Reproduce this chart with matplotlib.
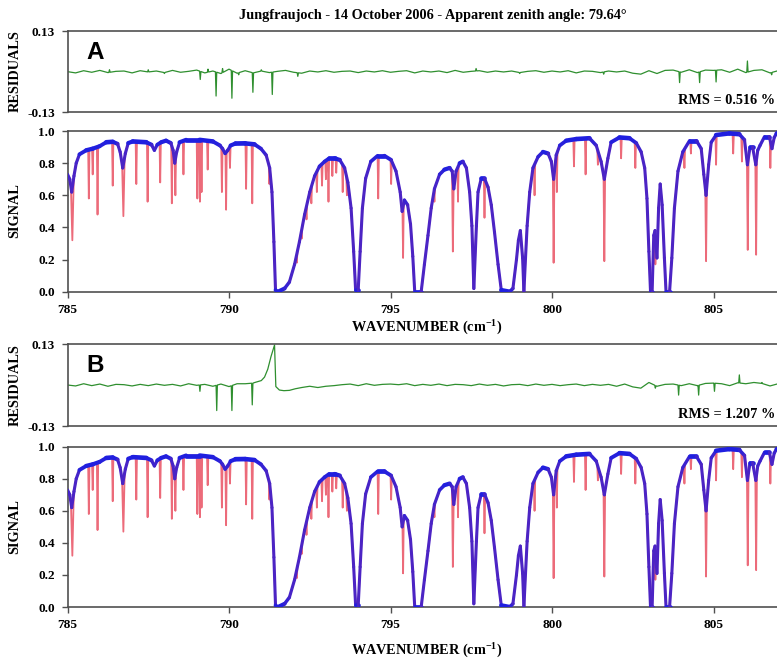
import numpy as np
import matplotlib
matplotlib.use("Agg")
import matplotlib.pyplot as plt
from matplotlib.collections import LineCollection
from matplotlib.colors import to_rgb

# ---------------------------------------------------------------------------
# Spectral data (wavenumber in cm-1, normalised signal)
# ---------------------------------------------------------------------------
# Calculated spectrum: broad absorption envelope
env_wn = [785.00, 785.07, 785.13, 785.20, 785.27, 785.37, 785.58, 785.78, 785.99,
          786.20, 786.40, 786.55, 786.63, 786.71, 786.79, 786.88, 787.02, 787.44,
          787.60, 787.69, 787.78, 787.90, 788.05, 788.20, 788.27, 788.32, 788.38,
          788.47, 788.67, 789.09, 789.50, 789.72, 789.80, 789.88, 789.96, 790.05,
          790.20, 790.50, 790.79, 790.99, 791.15, 791.26, 791.33, 791.39, 791.44,
          791.51, 791.72, 791.87, 792.03, 792.18, 792.34, 792.50, 792.65, 792.80,
          792.96, 793.10, 793.27, 793.43, 793.58, 793.68, 793.78, 793.86, 793.92,
          794.00, 794.06, 794.13, 794.23, 794.39, 794.60, 794.81, 795.02, 795.17,
          795.30, 795.36, 795.43, 795.53, 795.62, 795.69, 795.75, 795.95, 796.05,
          796.16, 796.26, 796.36, 796.52, 796.67, 796.83, 796.91, 796.96, 797.03,
          797.14, 797.24, 797.35, 797.45, 797.52, 797.58, 797.66, 797.71, 797.81,
          797.91, 798.02, 798.12, 798.22, 798.33, 798.43, 798.69, 798.79, 798.90,
          798.96, 799.02, 799.09, 799.13, 799.18, 799.23, 799.31, 799.41, 799.57,
          799.72, 799.88, 799.98, 800.05, 800.13, 800.24, 800.44, 800.75, 801.16,
          801.37, 801.52, 801.62, 801.73, 801.83, 802.09, 802.40, 802.61, 802.76,
          802.87, 802.94, 803.00, 803.05, 803.10, 803.15, 803.19, 803.25, 803.30,
          803.35, 803.41, 803.48, 803.53, 803.64, 803.71, 803.79, 803.90, 804.05,
          804.26, 804.47, 804.62, 804.70, 804.77, 804.85, 804.93, 805.08, 805.49,
          805.80, 805.96, 806.05, 806.13, 806.21, 806.31, 806.37, 806.44, 806.58,
          806.73, 806.81, 806.88, 806.95, 807.00]
env_sig = [0.73, 0.70, 0.62, 0.72, 0.80, 0.855, 0.88, 0.89, 0.905,
           0.93, 0.933, 0.92, 0.87, 0.77, 0.86, 0.925, 0.935, 0.93,
           0.915, 0.88, 0.915, 0.93, 0.94, 0.925, 0.88, 0.80, 0.87,
           0.93, 0.945, 0.945, 0.935, 0.91, 0.89, 0.86, 0.88, 0.91,
           0.922, 0.923, 0.917, 0.89, 0.85, 0.77, 0.62, 0.31, 0.01,
           0.00, 0.02, 0.06, 0.17, 0.31, 0.48, 0.62, 0.72, 0.78,
           0.81, 0.83, 0.83, 0.82, 0.77, 0.68, 0.52, 0.25, 0.01,
           0.01, 0.25, 0.52, 0.705, 0.81, 0.846, 0.846, 0.82, 0.75,
           0.62, 0.50, 0.57, 0.54, 0.42, 0.22, 0.00, 0.00, 0.17,
           0.35, 0.52, 0.64, 0.73, 0.76, 0.77, 0.75, 0.64, 0.75,
           0.80, 0.81, 0.77, 0.62, 0.41, 0.02, 0.41, 0.62, 0.705,
           0.705, 0.65, 0.54, 0.37, 0.17, 0.01, 0.00, 0.02, 0.20,
           0.32, 0.38, 0.21, 0.00, 0.21, 0.41, 0.62, 0.77, 0.84,
           0.87, 0.86, 0.81, 0.70, 0.85, 0.91, 0.94, 0.95, 0.955,
           0.91, 0.81, 0.70, 0.83, 0.93, 0.96, 0.955, 0.925, 0.87,
           0.77, 0.58, 0.25, 0.00, 0.00, 0.35, 0.38, 0.21, 0.52,
           0.67, 0.54, 0.21, 0.00, 0.00, 0.21, 0.52, 0.75, 0.87,
           0.94, 0.94, 0.89, 0.73, 0.60, 0.79, 0.93, 0.975, 0.985,
           0.98, 0.945, 0.79, 0.90, 0.90, 0.79, 0.88, 0.91, 0.965,
           0.965, 0.89, 0.96, 0.985, 0.99]

# Observed spectrum: narrow lines below the envelope (centre, minimum, half width)
line_wn = [785.15, 785.66, 785.78, 785.93, 786.40, 786.73, 787.13, 787.48, 787.87,
           788.23, 788.34, 788.59, 789.02, 789.10, 789.15, 789.34, 789.78, 789.91,
           790.03, 790.53, 790.72, 791.25, 792.10, 792.25, 792.40, 792.55, 792.72,
           792.88, 793.00, 793.08, 793.20, 793.32, 793.52, 793.65, 794.62, 795.02,
           795.39, 796.36, 796.93, 797.09, 797.91, 799.46, 800.05, 800.15, 800.68,
           801.04, 801.42, 801.62, 802.14, 802.58, 803.20, 804.10, 804.30, 804.77,
           805.08, 805.61, 805.88, 806.06, 806.32, 806.76]
line_min = [0.32, 0.58, 0.73, 0.48, 0.66, 0.47, 0.67, 0.56, 0.68,
            0.55, 0.60, 0.73, 0.58, 0.56, 0.62, 0.76, 0.62, 0.51,
            0.77, 0.64, 0.55, 0.67, 0.18, 0.33, 0.45, 0.55, 0.62,
            0.66, 0.70, 0.56, 0.72, 0.74, 0.62, 0.60, 0.58, 0.67,
            0.21, 0.56, 0.25, 0.56, 0.46, 0.60, 0.18, 0.62, 0.78,
            0.73, 0.79, 0.19, 0.83, 0.77, 0.17, 0.77, 0.86, 0.19,
            0.79, 0.86, 0.81, 0.26, 0.23, 0.77]
line_hw = [0.045, 0.02, 0.02, 0.02, 0.02, 0.04, 0.02, 0.02, 0.02,
           0.02, 0.02, 0.02, 0.02, 0.02, 0.02, 0.02, 0.02, 0.02,
           0.02, 0.02, 0.02, 0.02, 0.02, 0.02, 0.02, 0.02, 0.02,
           0.02, 0.02, 0.02, 0.02, 0.02, 0.02, 0.02, 0.02, 0.02,
           0.02, 0.02, 0.025, 0.02, 0.02, 0.02, 0.025, 0.02, 0.02,
           0.02, 0.02, 0.025, 0.02, 0.02, 0.02, 0.02, 0.02, 0.025,
           0.02, 0.02, 0.02, 0.025, 0.025, 0.02]

# Residuals (observed - calculated), baseline every 0.25 cm-1 from 785
res_a_base = [0.000, -0.004, 0.003, -0.002, 0.004, -0.003, 0.001, 0.002, -0.004, 0.003,
              -0.001, 0.002, -0.003, 0.004, -0.002, 0.001, 0.005, -0.004, 0.002, -0.006,
              0.008, -0.005, 0.003, -0.004, 0.002, -0.003, 0.001, 0.004, -0.002, -0.005,
              0.002, -0.001, 0.003, -0.002, 0.001, 0.002, -0.003, 0.002, -0.001, 0.003,
              -0.002, 0.001, 0.003, -0.004, 0.002, -0.001, 0.002, -0.003, 0.004, -0.002,
              0.001, 0.003, -0.002, 0.002, -0.001, 0.002, -0.003, 0.001, 0.003, -0.002,
              0.002, -0.001, 0.003, -0.004, 0.002, 0.001, -0.003, 0.002, -0.001, 0.002,
              -0.005, -0.008, 0.003, -0.006, 0.004, 0.005, -0.002, 0.006, -0.003, 0.005,
              0.004, 0.006, -0.002, 0.008, -0.003, 0.004, 0.006, -0.004, 0.003]
res_a_spk_wn = [786.30, 787.50, 788.00, 789.11, 789.35, 789.60, 789.80, 790.09, 790.30,
                790.74, 791.00, 791.34, 792.13, 797.65, 799.00, 801.60, 803.95, 804.57,
                805.08, 806.05, 806.80]
res_a_spk = [0.006, 0.006, -0.006, -0.025, 0.008, -0.078, 0.010, -0.085, -0.010,
             -0.066, 0.006, -0.073, -0.015, 0.010, -0.006, -0.008, -0.035, -0.035,
             -0.033, 0.034, -0.010]

res_b_base = [0.000, -0.003, 0.004, -0.002, 0.003, -0.004, 0.002, 0.001, -0.003, 0.002,
              -0.002, 0.003, -0.001, 0.002, -0.003, 0.004, -0.001, 0.002, -0.004, 0.003,
              -0.005, 0.004, 0.004, 0.006, 0.010, 0.016, 0.030, 0.005, -0.016, -0.017,
              -0.012, -0.008, -0.004, -0.002, 0.001, 0.003, -0.002, 0.004, -0.001, 0.002,
              0.003, 0.001, 0.004, -0.002, 0.002, -0.001, 0.003, -0.002, 0.002, 0.001,
              -0.002, 0.003, -0.001, 0.002, -0.003, 0.001, 0.002, -0.002, 0.003, -0.001,
              0.002, -0.002, 0.001, 0.003, -0.002, 0.002, -0.001, 0.002, -0.004, 0.003,
              -0.006, -0.010, 0.008, -0.004, 0.002, 0.003, -0.002, 0.004, -0.002, 0.005,
              0.006, 0.004, -0.002, 0.007, 0.004, 0.008, 0.005, -0.003, 0.004]
# Systematic feature near the saturated line at 791.5 cm-1
res_b_ramp_wn = [790.50, 790.80, 791.00, 791.10, 791.20, 791.30, 791.41, 791.45,
                 791.56, 791.70, 791.87, 792.05, 792.25, 792.50]
res_b_ramp = [0.004, 0.008, 0.014, 0.025, 0.050, 0.090, 0.127, -0.005,
              -0.016, -0.018, -0.017, -0.012, -0.008, -0.004]
res_b_spk_wn = [789.10, 789.62, 790.09, 790.72, 803.20, 803.92, 804.54, 805.03,
                805.80, 806.50]
res_b_spk = [-0.020, -0.081, -0.081, -0.063, -0.010, -0.032, -0.032, -0.020,
             0.032, 0.008]

xticks = [785, 790, 795, 800, 805]
sig_ticks = [0.0, 0.2, 0.4, 0.6, 0.8, 1.0]
res_ticks = [-0.13, 0.13]
res_tick_labels = ["-0.13", "0.13"]

title = "Jungfraujoch - 14 October 2006 - Apparent zenith angle: 79.64°"
rms_labels = ["RMS = 0.516 %", "RMS = 1.207 %"]
panel_letters = ["A", "B"]

# ---------------------------------------------------------------------------
plt.rcParams["font.family"] = "Liberation Serif"
plt.rcParams["font.weight"] = "bold"
plt.rcParams["mathtext.default"] = "regular"

BLUE = "#1f1fe0"
PURPLE = "#7a2aa8"
RED = "#e63a4e"
GREEN = "#2f8f2f"
SPINE = "#505050"
FS = 10.3


def observed_trace(wn, sig, lw_, lmin, lhw):
    """Insert the narrow lines into the envelope polyline."""
    wn = np.asarray(wn)
    sig = np.asarray(sig)
    keep = np.ones(len(wn), bool)
    pts = []
    for c, m, h in zip(lw_, lmin, lhw):
        keep &= ~((wn > c - h) & (wn < c + h))
        pts += [(c - h, np.interp(c - h, wn, sig)), (c, m),
                (c + h, np.interp(c + h, wn, sig))]
    pts += list(zip(wn[keep], sig[keep]))
    pts.sort()
    return np.array(pts).T


def residual_trace(base, spk_wn, spk, ramp_wn=(), ramp=()):
    bx = 785 + 0.25 * np.arange(len(base))
    by = np.asarray(base)
    keep = np.ones(len(bx), bool)
    if len(ramp_wn):
        keep &= ~((bx >= ramp_wn[0]) & (bx <= ramp_wn[-1]))
    pts = list(zip(ramp_wn, ramp))
    for c, v in zip(spk_wn, spk):
        keep &= ~((bx > c - 0.03) & (bx < c + 0.03))
        pts += [(c - 0.02, np.interp(c - 0.02, bx, by)), (c, v),
                (c + 0.02, np.interp(c + 0.02, bx, by))]
    pts += list(zip(bx[keep], by[keep]))
    pts.sort()
    return np.array(pts).T


def envelope_collection(ax, wn, sig):
    """Calculated spectrum: heavy on flat parts, a little thinner on steep flanks."""
    wn = np.asarray(wn)
    sig = np.asarray(sig)
    pts = np.column_stack([wn, sig])
    segs = np.stack([pts[:-1], pts[1:]], axis=1)
    dx = np.diff(wn) * 32.3
    dy = np.diff(sig) * 160.7
    steep = np.abs(dy) / np.hypot(dx, dy)
    widths = 3.4 - 1.2 * steep
    b, p = np.array(to_rgb(BLUE)), np.array(to_rgb(PURPLE))
    mix = (np.clip(steep, 0, 1) ** 3)[:, None] * 0.5
    cols = b * (1 - mix) + p * mix
    lc = LineCollection(segs, linewidths=widths, colors=cols, capstyle="round",
                        joinstyle="round", zorder=3)
    ax.add_collection(lc)


obs_x, obs_y = observed_trace(env_wn, env_sig, line_wn, line_min, line_hw)
ra_x, ra_y = residual_trace(res_a_base, res_a_spk_wn, res_a_spk)
rb_x, rb_y = residual_trace(res_b_base, res_b_spk_wn, res_b_spk,
                            res_b_ramp_wn, res_b_ramp)

W_PX, H_PX = 777, 663
fig = plt.figure(figsize=(W_PX / 100, H_PX / 100), dpi=100)

L = 67.5 / W_PX
WID = (778.1 - 67.5) / W_PX


def frame(top, bottom):
    return [L, 1 - bottom / H_PX, WID, (bottom - top) / H_PX]


ax_ra = fig.add_axes(frame(31, 112.3))
ax_sa = fig.add_axes(frame(131, 291.7))
ax_rb = fig.add_axes(frame(344, 426))
ax_sb = fig.add_axes(frame(446.7, 607))

for ax in (ax_ra, ax_sa, ax_rb, ax_sb):
    ax.set_xlim(785, 807)
    for s in ax.spines.values():
        s.set_color(SPINE)
        s.set_linewidth(1.2)
    ax.tick_params(direction="out", length=4, width=1, color=SPINE,
                   labelsize=FS - 0.8)
    ax.tick_params(axis="y", pad=5)
    ax.tick_params(axis="x", pad=5)

for ax, rx, ry, rms, letter in ((ax_ra, ra_x, ra_y, rms_labels[0], panel_letters[0]),
                                (ax_rb, rb_x, rb_y, rms_labels[1], panel_letters[1])):
    ax.plot(rx, ry, color=GREEN, lw=0.9)
    ax.set_ylim(-0.13, 0.13)
    ax.set_yticks(res_ticks)
    ax.set_yticklabels(res_tick_labels)
    ax.set_xticks([])
    ax.text(0.9956, 0.14, rms, transform=ax.transAxes, ha="right", va="center",
            fontsize=FS)
    ax.text(0.027, 0.74, letter, transform=ax.transAxes, ha="left", va="center",
            fontsize=17.5, family="Liberation Sans", fontweight="bold")

for ax in (ax_sa, ax_sb):
    ax.plot(obs_x, obs_y, color=RED, lw=1.3, alpha=0.75, zorder=2)
    envelope_collection(ax, env_wn, env_sig)
    ax.set_ylim(0, 1.0)
    ax.set_yticks(sig_ticks)
    ax.set_yticklabels([f"{t:.1f}" for t in sig_ticks])
    ax.set_xticks(xticks)
    ax.set_xticklabels([str(t) for t in xticks])

fig.text(433 / W_PX, 1 - 15 / H_PX, title, ha="center", va="center", fontsize=FS)
for yc in (328, 651):
    fig.text(427 / W_PX, 1 - yc / H_PX, "WAVENUMBER (cm$^{-1}$)", ha="center",
             va="center", fontsize=FS)
for yc, lab in ((71.5, "RESIDUALS"), (211, "SIGNAL"), (385, "RESIDUALS"), (527, "SIGNAL")):
    fig.text(15 / W_PX, 1 - yc / H_PX, lab, rotation=90, ha="center", va="center",
             fontsize=FS)

fig.savefig("out.png", dpi=100)
